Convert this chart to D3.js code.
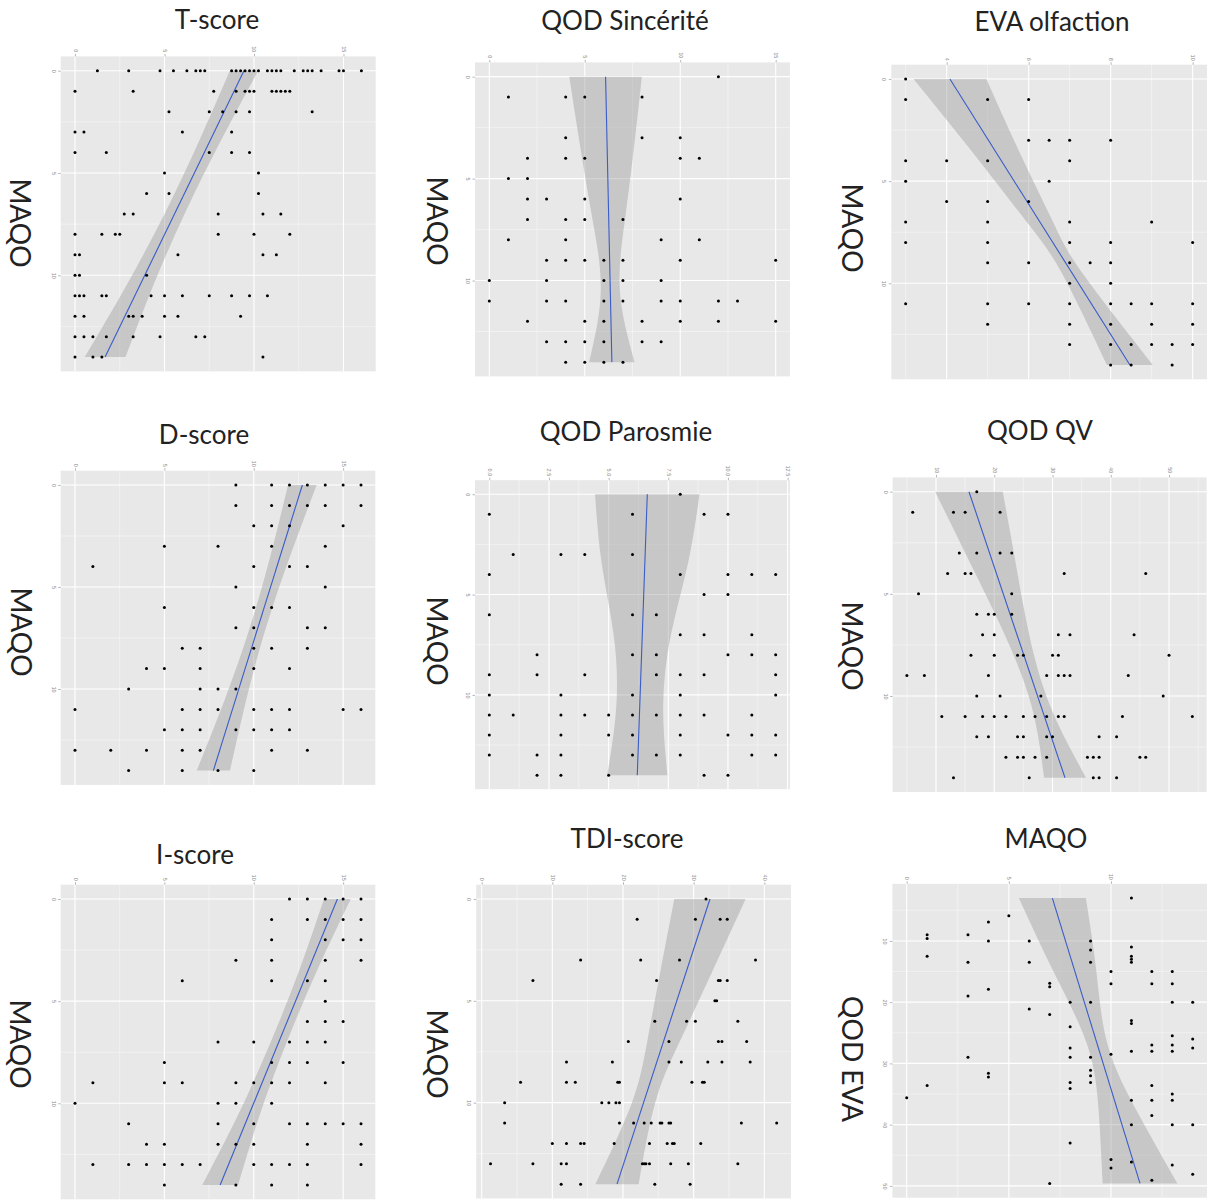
<!DOCTYPE html>
<html>
<head>
<meta charset="utf-8">
<script src="https://cdn.jsdelivr.net/npm/d3@7"></script>
<style>
  body { margin: 0; background: #fff; }
</style>
</head>
<body>
<svg id="chart" width="1209" height="1200"></svg>
<script>
// MAQO levels (rows of the first eight panels, columns of the last one)
const maqoLevels = [0, 1, 2, 3, 4, 5, 6, 7, 8, 9, 10, 11, 12, 13, 14];

// scores read per MAQO level
const tScoreByMaqo = [
  [1.25, 3, 4.75, 5.5, 6.25, 6.75, 7, 7.25, 8.75, 9, 9.25, 9.5, 9.75, 10, 10.25, 10.75, 11, 11.25, 11.5, 12.25, 12.75, 13, 13.25, 13.75, 14.75, 15, 16],
  [0, 3.25, 7.75, 9, 9.5, 9.75, 10, 11, 11.25, 11.5, 11.75, 12],
  [5.25, 7.5, 8.25, 9, 9.75, 13.25],
  [0, 0.5, 6, 8.75],
  [0, 1.75, 7.5, 8.75, 9.75],
  [5, 10.25],
  [4, 5.25, 10.25],
  [2.75, 3.25, 8, 10.5, 11.5],
  [0, 1.5, 2.25, 2.5, 8, 10, 12],
  [0, 0.25, 5.75, 10.5, 11.25],
  [0, 0.25, 4],
  [0, 0.25, 0.5, 1.5, 1.75, 4.25, 5, 6, 7.5, 8.75, 9.75, 10.75],
  [0, 0.5, 3, 3.25, 3.75, 5, 5.75, 9.25],
  [0, 0.5, 1, 1.75, 3.25, 4.75, 6.75, 7.25],
  [0, 1, 1.5, 10.5]
];
const sinceriteByMaqo = [
  [12], [1, 4, 5, 8], [], [4, 8, 10], [2, 4, 5, 10, 11], [1, 2], [2, 3, 5, 10],
  [2, 4, 5, 7], [1, 4, 9, 11], [3, 4, 5, 6, 7, 10, 15], [0, 3, 6, 7, 9],
  [0, 3, 4, 6, 7, 9, 10, 12, 13], [2, 5, 6, 8, 10, 12, 15], [3, 4, 5, 6, 8, 9], [4, 5, 6, 7]
];
const evaByMaqo = [
  [3], [3, 5, 6], [], [6, 6.5, 7, 8], [3, 4, 5, 7], [3, 6.5], [4, 5, 6], [3, 5, 7, 9],
  [3, 5, 7, 8, 10], [5, 6, 7, 7.5, 8], [7, 8], [3, 5, 6, 7, 8, 8.5, 9, 10],
  [5, 7, 8, 9, 10], [7, 8, 8.5, 9, 9.5, 10], [8, 8.5, 9.5]
];
const dScoreByMaqo = [
  [9, 11, 12, 13, 14, 15, 16], [9, 11, 12, 13, 14, 16], [10, 11, 12, 15], [5, 8, 11, 14],
  [1, 10, 12, 13], [9, 14], [5, 10, 11, 12], [9, 10, 13, 14], [6, 7, 10, 11, 13],
  [4, 5, 7, 10, 12], [3, 7, 8, 9], [0, 6, 7, 8, 10, 11, 12, 15, 16],
  [5, 6, 7, 9, 10, 11, 12], [0, 2, 4, 6, 7, 11, 13], [3, 6, 8, 10]
];
const parosmieByMaqo = [
  [8], [0, 6, 9, 10], [], [1, 3, 4, 6], [0, 8, 10, 11, 12], [9, 10], [0, 6, 7], [8, 9, 11],
  [2, 6, 7, 10, 11, 12], [0, 2, 4, 7, 8, 9, 12], [0, 3, 6, 8, 12],
  [0, 1, 3, 4, 5, 6, 7, 8, 9, 11], [0, 3, 5, 6, 8, 10, 11, 12],
  [0, 2, 3, 6, 7, 8, 11, 12], [2, 3, 5, 9, 10]
];
const qvByMaqo = [
  [17], [6, 13, 15, 21], [], [14, 17, 21, 23], [12, 15, 16, 32, 46], [7, 23], [17, 19, 20, 23],
  [18, 20, 31, 33, 44], [16, 20, 24, 25, 30, 31, 50], [5, 8, 19, 29, 31, 32, 33, 43],
  [17, 21, 28, 49], [11, 15, 18, 20, 22, 25, 27, 29, 31, 32, 42, 54],
  [17, 19, 24, 25, 29, 30, 38, 41], [22, 24, 25, 27, 29, 36, 37, 38, 45, 46], [13, 26, 37, 38, 41]
];
const iScoreByMaqo = [
  [12, 13, 14, 15, 16], [11, 13, 14, 15, 16], [11, 14, 15, 16], [9, 11, 14, 16], [6, 11, 13, 14],
  [14], [13, 14, 15], [8, 10, 12, 13, 14], [5, 11, 12, 13, 15], [1, 5, 6, 9, 10, 11, 12, 14],
  [0, 8, 9, 11], [3, 8, 10, 12, 13, 14, 15, 16], [4, 5, 8, 9, 10, 13, 16],
  [1, 3, 4, 5, 6, 7, 10, 11, 12, 13, 16], [5, 9, 11, 13]
];
const tdiByMaqo = [
  [31.75], [22, 30.25, 33.75, 34.75], [], [14, 22.5, 28, 38.75], [7.25, 24.75, 33.5, 33.75, 34.75],
  [33, 33.25], [24.5, 29, 30.25, 36.25], [20.75, 26.5, 33.5, 34, 37.5],
  [12, 18.5, 26.5, 28.25, 32, 34, 38], [5.5, 12, 13.25, 19.25, 19.5, 29.75, 31.25, 31.5],
  [3.25, 17, 18, 19, 19.5], [3.25, 19.5, 21.5, 23, 24, 25.25, 25.5, 26.5, 26.75, 36.75, 41.75],
  [10, 12, 14, 14.5, 18.75, 23.75, 26.25, 27, 27.25, 31],
  [1.25, 7.25, 11.25, 12, 22.75, 23, 23.25, 23.75, 26.75, 29.25, 36.25], [11.25, 14, 24.5, 29.5]
];
const qodEvaByMaqo = [
  [35.6], [9.0, 9.6, 12.5, 33.6], [], [9.0, 13.5, 19.0, 29.0], [6.9, 10, 17.9, 31.6, 32.2], [5.9],
  [10, 13.5, 21.1], [16.9, 17.5, 22.0, 49.6], [20, 24.0, 27.5, 29.0, 33.1, 34.1, 43.0],
  [10, 11.5, 13.5, 20, 29.0, 31.1, 32.0, 33.1], [15.0, 17.0, 28.5, 45.7, 47.1],
  [3.0, 11.0, 12.5, 13.0, 13.5, 23.0, 23.5, 28.0, 36.0, 40.0, 46.1],
  [15.0, 17.0, 27.0, 28.0, 33.6, 36.0, 38.5, 49.1],
  [15.0, 17.0, 20, 25.5, 27.0, 28.0, 35.0, 36.0, 40.0, 46.6], [20, 26.0, 27.5, 40.0, 48.1]
];

// fitted line (value at the low and high end of the fitted variable)
const tScoreFit = [9.44, 1.68];
const sinceriteFit = [6.09, 6.42];
const evaFit = [4.08, 8.47];
const dScoreFit = [12.72, 7.74];
const parosmieFit = [6.62, 6.2];
const qvFit = [15.66, 32.14];
const iScoreFit = [14.68, 8.12];
const tdiFit = [32.31, 19.15];
const qodEvaFit = [7.13, 11.42];

// confidence band half-widths [position, half-width]
const tScoreBand = [[0, 0.79], [3.5, 0.6], [7, 0.56], [10.5, 0.75], [14, 1.14]];
const sinceriteBand = [[0, 1.9], [3.5, 1.4], [7, 0.85], [10.5, 0.5], [14, 1.19]];
const evaBand = [[0, 0.89], [3.5, 0.58], [7, 0.32], [9.5, 0.25], [14, 0.56]];
const dScoreBand = [[0, 0.8], [3.5, 0.55], [7, 0.45], [10.5, 0.6], [14, 0.93]];
const parosmieBand = [[0, 2.19], [3.5, 1.8], [7, 1.2], [10.5, 0.98], [14, 1.26]];
const qvBand = [[0, 5.8], [3.5, 3.9], [7, 2.1], [10.5, 1.6], [14, 3.6]];
const iScoreBand = [[0, 0.75], [3.5, 0.5], [7, 0.45], [10.5, 0.6], [14, 1.0]];
const tdiBand = [[0, 5.05], [3.5, 3.7], [7, 2.3], [10, 1.65], [14, 3.07]];
const qodEvaBand = [[3, 1.64], [15, 1.05], [27, 0.5], [38, 0.95], [49.6, 1.83]];

// tick labels
const scoreTicks = [0, 5, 10, 15];
const evaTicks = [4, 6, 8, 10];
const parosmieTicks = [0, 2.5, 5, 7.5, 10, 12.5];
const qvTicks = [10, 20, 30, 40, 50];
const tdiTicks = [0, 10, 20, 30, 40];
const maqoTicks = [0, 5, 10];
const qodEvaTicks = [10, 20, 30, 40, 50];

const panelTitles = ["T-score", "QOD Sincérité", "EVA olfaction", "D-score", "QOD Parosmie", "QOD QV", "I-score", "TDI-score", "MAQO"];
const sideLabels = ["MAQO", "MAQO", "MAQO", "MAQO", "MAQO", "MAQO", "MAQO", "MAQO", "QOD EVA"];

// rows = MAQO on the vertical axis, score across
const byMaqo = rows => rows.flatMap((vals, i) => vals.map(s => ({h: s, v: maqoLevels[i]})));
const panels = [
  {points: byMaqo(tScoreByMaqo), fit: tScoreFit, band: tScoreBand, hTicks: scoreTicks, vTicks: maqoTicks},
  {points: byMaqo(sinceriteByMaqo), fit: sinceriteFit, band: sinceriteBand, hTicks: scoreTicks, vTicks: maqoTicks},
  {points: byMaqo(evaByMaqo), fit: evaFit, band: evaBand, hTicks: evaTicks, vTicks: maqoTicks},
  {points: byMaqo(dScoreByMaqo), fit: dScoreFit, band: dScoreBand, hTicks: scoreTicks, vTicks: maqoTicks},
  {points: byMaqo(parosmieByMaqo), fit: parosmieFit, band: parosmieBand, hTicks: parosmieTicks, vTicks: maqoTicks, fmt: d3.format(".1f")},
  {points: byMaqo(qvByMaqo), fit: qvFit, band: qvBand, hTicks: qvTicks, vTicks: maqoTicks},
  {points: byMaqo(iScoreByMaqo), fit: iScoreFit, band: iScoreBand, hTicks: scoreTicks, vTicks: maqoTicks},
  {points: byMaqo(tdiByMaqo), fit: tdiFit, band: tdiBand, hTicks: tdiTicks, vTicks: maqoTicks},
  // last panel: MAQO across, QOD EVA down
  {points: qodEvaByMaqo.flatMap((vals, i) => vals.map(q => ({h: maqoLevels[i], v: q}))),
   fit: qodEvaFit, band: qodEvaBand, hTicks: maqoTicks, vTicks: qodEvaTicks}
];

// where each panel sits in the page
const layout = [
  {x: 60.7, y: 56.4, w: 315, h: 315, tx: 217, ty: 29, lx: 21, ly: 223},
  {x: 475, y: 62.4, w: 315, h: 314, tx: 625, ty: 30, lx: 438, ly: 221},
  {x: 891.3, y: 64.7, w: 315.7, h: 314.6, tx: 1052, ty: 30.5, lx: 852.5, ly: 228},
  {x: 60.7, y: 470.7, w: 314.6, h: 314.2, tx: 204, ty: 444, lx: 21.7, ly: 632},
  {x: 475, y: 480.2, w: 315, h: 309, tx: 626, ty: 440.5, lx: 438, ly: 641},
  {x: 892.6, y: 477.4, w: 314, h: 314.6, tx: 1040, ty: 440, lx: 852.5, ly: 646},
  {x: 60.7, y: 884.7, w: 314.6, h: 314.6, tx: 195, ty: 864, lx: 20.8, ly: 1044},
  {x: 476.2, y: 884.7, w: 314.8, h: 313.7, tx: 627, ty: 848, lx: 438, ly: 1054},
  {x: 892.4, y: 883.8, w: 314.6, h: 313.9, tx: 1046, ty: 847.5, lx: 853, ly: 1059}
];

const svg = d3.select("#chart");

// ggplot-like 5% expansion of the data range
function expand(ext) {
  const pad = (ext[1] - ext[0]) * 0.05;
  return [ext[0] - pad, ext[1] + pad];
}

function minorTicks(ticks, dom) {
  const step = ticks[1] - ticks[0];
  const out = [];
  if (ticks[0] - step / 2 >= dom[0]) out.push(ticks[0] - step / 2);
  ticks.forEach(t => { if (t + step / 2 <= dom[1]) out.push(t + step / 2); });
  return out;
}

panels.forEach((p, i) => {
  const L = layout[i];
  const g = svg.append("g");

  const hDom = expand(d3.extent(p.points, d => d.h));
  const vExt = d3.extent(p.points, d => d.v);
  const vDom = expand(vExt);
  const x = d3.scaleLinear().domain(hDom).range([L.x, L.x + L.w]);
  const y = d3.scaleLinear().domain(vDom).range([L.y, L.y + L.h]);

  g.append("rect")
    .attr("x", L.x).attr("y", L.y)
    .attr("width", L.w).attr("height", L.h)
    .attr("fill", "#e8e8e8");

  // minor grid
  g.selectAll(".minor-h")
    .data(minorTicks(p.hTicks, hDom))
    .enter().append("line")
    .attr("x1", d => x(d)).attr("x2", d => x(d))
    .attr("y1", L.y).attr("y2", L.y + L.h)
    .attr("stroke", "#f5f5f5").attr("stroke-width", 0.7);
  g.selectAll(".minor-v")
    .data(minorTicks(p.vTicks, vDom))
    .enter().append("line")
    .attr("y1", d => y(d)).attr("y2", d => y(d))
    .attr("x1", L.x).attr("x2", L.x + L.w)
    .attr("stroke", "#f5f5f5").attr("stroke-width", 0.7);

  // major grid
  g.selectAll(".major-h")
    .data(p.hTicks)
    .enter().append("line")
    .attr("x1", d => x(d)).attr("x2", d => x(d))
    .attr("y1", L.y).attr("y2", L.y + L.h)
    .attr("stroke", "#ffffff").attr("stroke-width", 1.1);
  g.selectAll(".major-v")
    .data(p.vTicks)
    .enter().append("line")
    .attr("y1", d => y(d)).attr("y2", d => y(d))
    .attr("x1", L.x).attr("x2", L.x + L.w)
    .attr("stroke", "#ffffff").attr("stroke-width", 1.1);

  // axes (labels turned a quarter, like the rotated figure)
  const fmt = p.fmt || d3.format("d");
  g.append("g")
    .attr("transform", `translate(0,${L.y})`)
    .call(d3.axisTop(x).tickValues(p.hTicks).tickSize(2.5).tickFormat(fmt))
    .call(a => a.select(".domain").remove())
    .call(a => a.selectAll("line").attr("stroke", "#888").attr("stroke-width", 0.6))
    .call(a => a.selectAll("text")
      .attr("x", 0).attr("y", 0).attr("dy", null)
      .attr("transform", "translate(0,-4) rotate(90)")
      .attr("text-anchor", "end")
      .attr("dominant-baseline", "central")
      .attr("fill", "#888")
      .style("font-family", "Liberation Sans, Arial, sans-serif")
      .style("font-size", "5.5px"));

  g.append("g")
    .attr("transform", `translate(${L.x},0)`)
    .call(d3.axisLeft(y).tickValues(p.vTicks).tickSize(2.5).tickFormat(d3.format("d")))
    .call(a => a.select(".domain").remove())
    .call(a => a.selectAll("line").attr("stroke", "#888").attr("stroke-width", 0.6))
    .call(a => a.selectAll("text")
      .attr("x", 0).attr("y", 0).attr("dy", null)
      .attr("transform", "translate(-7,0) rotate(90)")
      .attr("text-anchor", "middle")
      .attr("dominant-baseline", "central")
      .attr("fill", "#888")
      .style("font-family", "Liberation Sans, Arial, sans-serif")
      .style("font-size", "5.5px"));

  // fit line and confidence band
  const fitAt = d3.scaleLinear().domain(vExt).range(p.fit);
  const bandPts = p.band.map(([v, hw]) => ({v: v, lo: fitAt(v) - hw, hi: fitAt(v) + hw}));

  g.append("path")
    .datum(bandPts)
    .attr("d", d3.area()
      .y(d => y(d.v))
      .x0(d => x(d.lo))
      .x1(d => x(d.hi))
      .curve(d3.curveNatural))
    .attr("fill", "#999999")
    .attr("fill-opacity", 0.42);

  g.append("path")
    .datum(vExt)
    .attr("d", d3.line()
      .x(d => x(fitAt(d)))
      .y(d => y(d)))
    .attr("fill", "none")
    .attr("stroke", "#3a5cc8")
    .attr("stroke-width", 1.1);

  // points
  g.selectAll("circle")
    .data(p.points)
    .enter().append("circle")
    .attr("cx", d => x(d.h))
    .attr("cy", d => y(d.v))
    .attr("r", 1.5)
    .attr("fill", "#000");

  // titles
  svg.append("text")
    .attr("x", L.tx).attr("y", L.ty)
    .attr("text-anchor", "middle")
    .attr("fill", "#222")
    .style("font-family", "Lato, sans-serif")
    .style("font-weight", "400")
    .style("font-size", "26px")
    .text(panelTitles[i]);

  svg.append("text")
    .attr("transform", `translate(${L.lx},${L.ly}) rotate(90)`)
    .attr("text-anchor", "middle")
    .attr("dominant-baseline", "central")
    .attr("fill", "#222")
    .style("font-family", "Lato, sans-serif")
    .style("font-weight", "400")
    .style("font-size", "28px")
    .text(sideLabels[i]);
});
</script>
</body>
</html>
